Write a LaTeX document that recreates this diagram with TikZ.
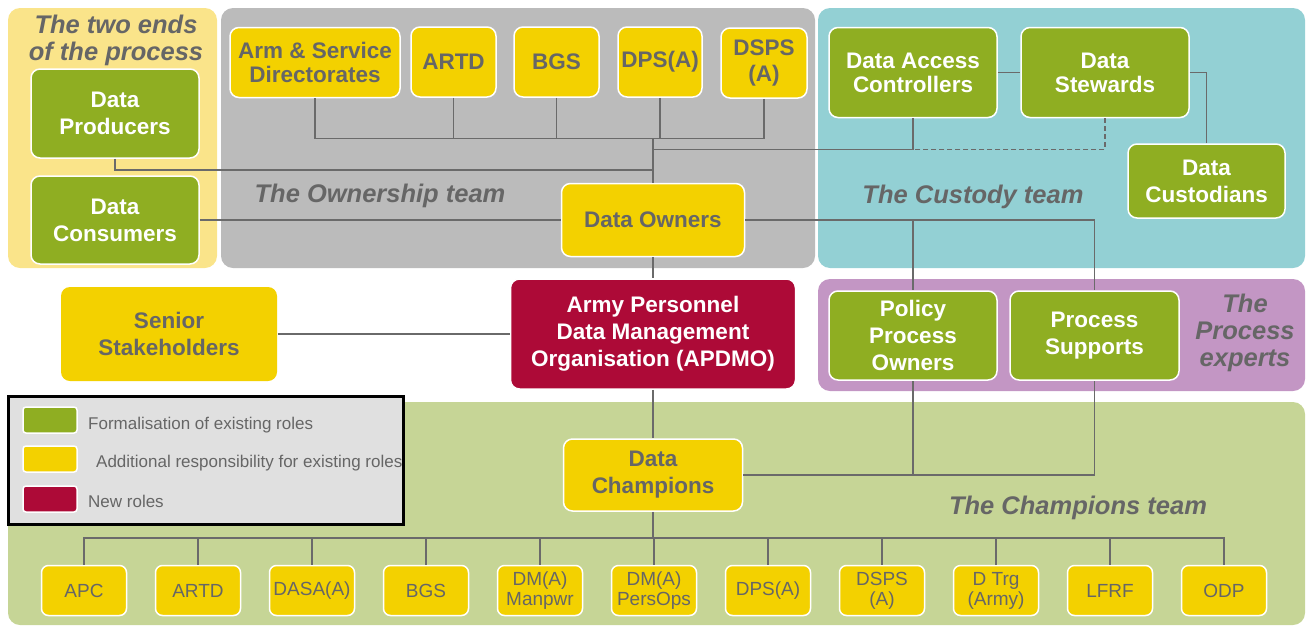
\documentclass[tikz,border=0pt]{standalone}
\usepackage{fontspec}
\setmainfont{Liberation Sans}
\definecolor{dkgreen}{HTML}{8FAE22}
\definecolor{ylw}{HTML}{F3D100}
\definecolor{apd}{HTML}{AD0A37}
\definecolor{txtgray}{HTML}{666666}
\definecolor{lngray}{HTML}{6A6A6A}
\definecolor{endsbg}{HTML}{FAE48A}
\definecolor{ownbg}{HTML}{BBBBBB}
\definecolor{custbg}{HTML}{93D0D4}
\definecolor{procbg}{HTML}{C396C4}
\definecolor{champbg}{HTML}{C6D596}
\definecolor{legbg}{HTML}{E0E0E0}
\begin{document}
\begin{tikzpicture}[x=1pt,y=-1pt,
  panel/.style={rounded corners=12pt},
  box/.style={rectangle,rounded corners=9pt,draw=white,line width=1.5pt,inner sep=0pt,align=center,
    font=\bfseries\fontsize{22.5}{27}\selectfont},
  gbox/.style={box,fill=dkgreen,text=white},
  ybox/.style={box,fill=ylw,text=txtgray},
  rbox/.style={box,fill=apd,text=white},
  tight/.style={font=\bfseries\fontsize{22.5}{24}\selectfont},
  sbox/.style={box,fill=ylw,text=txtgray,rounded corners=7pt,minimum width=85pt,minimum height=50pt,
    font=\fontsize{19}{20}\selectfont},
  team/.style={font=\bfseries\itshape\fontsize{25.5}{27}\selectfont,text=txtgray,align=center,inner sep=0pt},
  conn/.style={draw=lngray,line width=1.8pt},
  swatch/.style={rectangle,rounded corners=3pt,draw=white,line width=1.5pt,minimum width=54pt,minimum height=26pt,inner sep=0pt},
  legtext/.style={anchor=west,text=txtgray,font=\fontsize{17}{19}\selectfont,inner sep=0pt}
]
\useasboundingbox (0,0) rectangle (1306,627);
% panels
\fill[panel,endsbg] (8,8) rectangle (217,268);
\fill[panel,ownbg] (221,8) rectangle (815,268);
\fill[panel,custbg] (818,8) rectangle (1305,268);
\fill[panel,procbg] (818,279) rectangle (1305,391);
\fill[panel,champbg] (8,402) rectangle (1305,625);

% team titles
\node[team] (t1) at (116,40) {The two ends\\of the process};
\node[team] (t2) at (380,196) {The Ownership team};
\node[team] (t3) at (973,197) {The Custody team};
\node[team] (t4) at (1245,333) {The\\Process\\experts};
\node[team] (t5) at (1078,508) {The Champions team};

% nodes
\node[gbox,minimum width=168pt,minimum height=89pt] (prod) at (115,113.5) {Data\\Producers};
\node[gbox,minimum width=168pt,minimum height=88pt] (cons) at (115,220) {Data\\Consumers};
\node[ybox,tight,minimum width=170pt,minimum height=70pt] (asd) at (315,62.5) {Arm \& Service\\Directorates};
\node[ybox,minimum width=85pt,minimum height=70pt] (artd) at (453.5,62) {ARTD};
\node[ybox,minimum width=85pt,minimum height=70pt] (bgs) at (556.5,62) {BGS};
\node[ybox,minimum width=84pt,minimum height=70pt] (dps) at (660,62) {DPS(A)};
\node[ybox,minimum width=86pt,minimum height=70pt,font=\bfseries\fontsize{22.5}{26}\selectfont] (dsps) at (764,63) {DSPS\\(A)};
\node[ybox,minimum width=183pt,minimum height=73pt] (owners) at (653,220) {Data Owners};
\node[gbox,tight,minimum width=168pt,minimum height=90pt] (dac) at (913,72.5) {Data Access\\Controllers};
\node[gbox,tight,minimum width=168pt,minimum height=90pt] (stew) at (1105,72.5) {Data\\Stewards};
\node[gbox,minimum width=157pt,minimum height=74pt] (cust) at (1206.5,181) {Data\\Custodians};
\node[gbox,minimum width=168pt,minimum height=89pt] (ppo) at (913,335.5) {Policy\\Process\\Owners};
\node[gbox,minimum width=169pt,minimum height=89pt] (ps) at (1094.5,335.5) {Process\\Supports};
\node[rbox,minimum width=285pt,minimum height=110pt] (apdmo) at (653,334) {Army Personnel\\Data Management\\Organisation (APDMO)};
\node[ybox,draw=none,minimum width=216pt,minimum height=94pt] (senior) at (169,334) {Senior\\Stakeholders};
\node[ybox,minimum width=179pt,minimum height=72pt] (champ) at (653,475) {Data\\Champions};

% bottom row
\node[sbox] (b1) at (84,590.5) {APC};
\node[sbox] (b2) at (198,590.5) {ARTD};
\node[sbox] (b3) at (312,590.5) {DASA(A)};
\node[sbox] (b4) at (426,590.5) {BGS};
\node[sbox] (b5) at (540,590.5) {DM(A)\\Manpwr};
\node[sbox] (b6) at (654,590.5) {DM(A)\\PersOps};
\node[sbox] (b7) at (768,590.5) {DPS(A)};
\node[sbox] (b8) at (882,590.5) {DSPS\\(A)};
\node[sbox] (b9) at (996,590.5) {D Trg\\(Army)};
\node[sbox] (b10) at (1110,590.5) {LFRF};
\node[sbox] (b11) at (1224,590.5) {ODP};

% coordinates
\coordinate (obus) at (653,138.5);
\coordinate (pj) at (653,170);
\coordinate (dj) at (653,149.5);
\coordinate (cbus) at (653,538);

% connectors ownership
\draw[conn] (asd.south) |- (obus);
\draw[conn] (artd.south) |- (obus);
\draw[conn] (bgs.south) |- (obus);
\draw[conn] (dps.south) |- (obus);
\draw[conn] (dsps.south) |- (obus);
\draw[conn] (obus) -- (owners.north);
\draw[conn] (prod.south) |- (pj);
\draw[conn] (cons.east) -- (owners.west);
% custody
\draw[conn] (dac.south) |- (dj);
\draw[conn,dash pattern=on 5pt off 3pt] (stew.south) |- (dj);
\draw[conn] (dac.east) -- (stew.west);
\draw[conn] (stew.east) -| (cust.north);
% process
\draw[conn] (owners.east) -| (ppo.north);
\draw[conn] (owners.east) -| (ps.north);
\draw[conn] (owners.south) -- (apdmo.north);
\draw[conn] (senior.east) -- (apdmo.west);
\draw[conn] (apdmo.south) -- (champ.north);
\draw[conn] (champ.east) -| (ppo.south);
\draw[conn] (champ.east) -| (ps.south);
% champions
\draw[conn] (champ.south) -- (cbus);
\foreach \b in {b1,b2,b3,b4,b5,b6,b7,b8,b9,b10,b11}
  \draw[conn] (\b.north) |- (cbus);

% legend
\draw[fill=legbg,draw=black,line width=3pt] (8,396) rectangle (403,524);
\node[swatch,fill=dkgreen] (s1) at (50,420) {};
\node[swatch,fill=ylw] (s2) at (50,459) {};
\node[swatch,fill=apd] (s3) at (50,499) {};
\node[legtext] (l1) at (88,425) {Formalisation of existing roles};
\node[legtext] (l2) at (96,463) {Additional responsibility for existing roles};
\node[legtext] (l3) at (88,501) {New roles};
\end{tikzpicture}
\end{document}
